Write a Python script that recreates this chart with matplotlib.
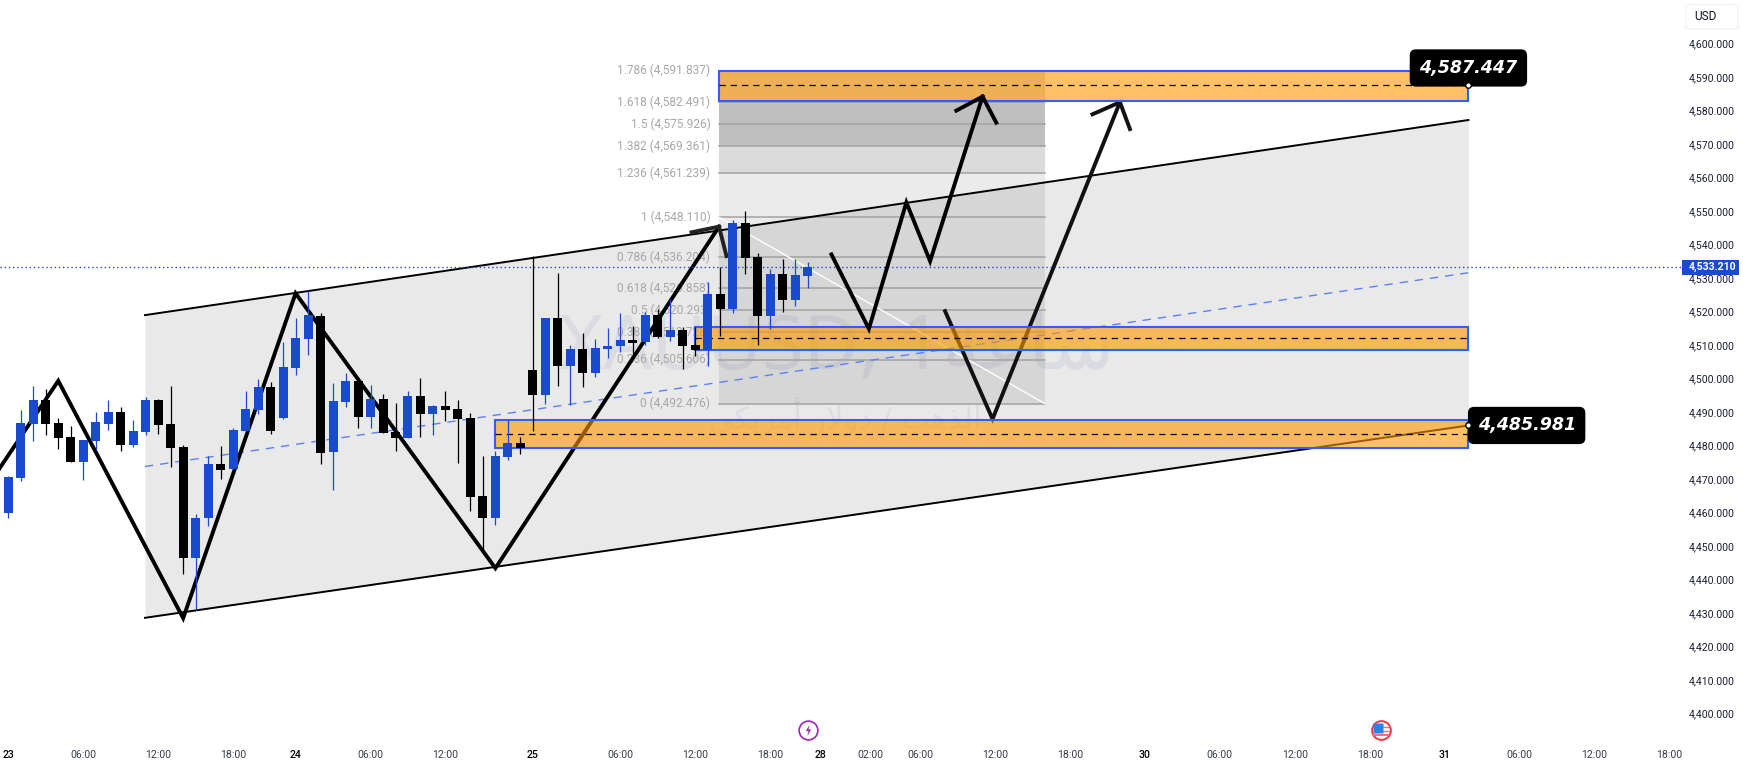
import matplotlib
matplotlib.use('Agg')
from matplotlib import pyplot as plt
from matplotlib.patches import FancyBboxPatch, Rectangle
import numpy as np

plt.rcParams['font.family'] = ['Roboto', 'DejaVu Sans']

# hourly candles
opens = [4459.9, 4470.3, 4486.4, 4493.6, 4486.7, 4482.6, 4475.1, 4481.4, 4486.4, 4490.0, 4480.2, 4484.0, 4493.6,
         4486.4, 4479.6, 4446.5, 4458.4, 4474.5, 4473.0, 4484.3, 4490.6, 4497.5, 4488.2, 4503.1, 4511.8, 4518.7,
         4478.1, 4493.0, 4499.3, 4488.5, 4493.9, 4484.0, 4482.2, 4494.8, 4489.4, 4491.8, 4490.9, 4488.2, 4465.0,
         4458.4, 4476.6, 4480.8, 4502.5, 4495.1, 4518.0, 4503.7, 4508.8, 4501.6, 4508.8, 4509.7, 4511.5, 4510.9,
         4518.9, 4512.4, 4514.5, 4510.0, 4508.5, 4525.2, 4520.7, 4546.4, 4536.2, 4518.6, 4531.2, 4523.4, 4530.6]
closes = [4470.6, 4486.7, 4493.6, 4486.4, 4482.3, 4475.1, 4481.7, 4487.0, 4490.0, 4480.2, 4484.3, 4493.6, 4486.1,
          4479.3, 4446.5, 4458.4, 4474.5, 4472.7, 4484.6, 4490.9, 4497.5, 4484.3, 4503.4, 4512.1, 4519.0, 4477.8,
          4493.3, 4499.3, 4488.5, 4493.9, 4483.7, 4482.3, 4494.8, 4489.4, 4491.8, 4490.6, 4487.9, 4464.6, 4458.4,
          4476.9, 4480.8, 4479.3, 4495.1, 4518.0, 4503.7, 4508.8, 4501.6, 4509.1, 4509.7, 4511.5, 4510.6, 4518.9,
          4512.4, 4514.5, 4509.7, 4508.5, 4525.2, 4520.7, 4546.4, 4536.0, 4518.6, 4531.2, 4523.4, 4530.9, 4533.3]
highs = [4470.9, 4490.6, 4497.8, 4496.9, 4488.2, 4485.8, 4481.7, 4490.0, 4493.6, 4491.5, 4487.6, 4494.5, 4493.9,
         4497.8, 4480.2, 4459.6, 4476.9, 4479.9, 4485.2, 4496.3, 4499.9, 4499.0, 4510.9, 4518.1, 4526.1, 4519.5,
         4498.7, 4501.6, 4500.5, 4498.1, 4495.4, 4492.7, 4496.3, 4500.1, 4492.1, 4496.3, 4493.6, 4489.7, 4476.9,
         4478.4, 4487.6, 4482.5, 4536.5, 4518.0, 4531.5, 4510.0, 4513.6, 4511.8, 4515.1, 4519.5, 4515.7, 4519.8,
         4520.7, 4523.7, 4515.4, 4515.5, 4528.8, 4533.3, 4547.3, 4550.0, 4537.4, 4532.7, 4535.6, 4535.6, 4534.8]
lows = [4458.5, 4469.5, 4481.4, 4483.2, 4479.0, 4475.1, 4469.7, 4478.7, 4484.6, 4478.4, 4479.6, 4483.2, 4483.5,
        4473.6, 4441.7, 4430.9, 4456.0, 4470.0, 4473.0, 4484.3, 4489.4, 4483.5, 4487.9, 4501.1, 4507.0, 4474.5,
        4466.7, 4491.5, 4485.2, 4485.2, 4483.7, 4478.4, 4482.2, 4482.5, 4483.1, 4487.3, 4474.8, 4460.5, 4448.8,
        4456.3, 4475.7, 4477.5, 4484.3, 4492.4, 4497.8, 4492.1, 4497.5, 4500.4, 4506.1, 4507.9, 4507.3, 4510.0,
        4512.1, 4511.2, 4502.8, 4506.7, 4503.7, 4512.7, 4519.5, 4531.2, 4510.0, 4514.8, 4519.8, 4521.6, 4527.0]

last_price = 4533.21

# bar numbers of the time axis
xtick_pos = [0, 6, 12, 18, 23, 29, 35, 42, 49, 55, 61, 65, 69, 73, 79, 85, 91, 97, 103, 109, 115, 121, 127, 133]
xtick_txt = ['23', '06:00', '12:00', '18:00', '24', '06:00', '12:00', '25', '06:00', '12:00', '18:00', '28',
             '02:00', '06:00', '12:00', '18:00', '30', '06:00', '12:00', '18:00', '31', '06:00', '12:00', '18:00']
date_ticks = ['23', '24', '25', '28', '30', '31']
ytick_pos = list(range(4400, 4601, 10))

# rising channel
chan_x = [10.94, 116.9]
chan_up = [4518.9, 4577.1]
chan_dn = [4428.6, 4485.981]

# fibonacci
fib_x = [56.9, 83.0]
fib_ratio = ['0', '0.236', '0.382', '0.5', '0.618', '0.786', '1', '1.236', '1.382', '1.5', '1.618', '1.786']
fib_price = [4492.476, 4505.606, 4513.728, 4520.293, 4526.858, 4536.204, 4548.110, 4561.239, 4569.361, 4575.926,
             4582.491, 4591.837]

# supply/demand boxes: left, low, mid, high
zone_left = [56.9, 55.0, 39.0]
zone_low = [4582.9, 4508.5, 4479.2]
zone_mid = [4587.447, 4512.1, 4483.4]
zone_high = [4591.8, 4515.5, 4487.6]

# zigzags
main_x = [-2.3, 4, 14, 23, 39, 56.9]
main_y = [4464.3, 4499.3, 4428.5, 4525.4, 4443.4, 4545.3]
main_head_x = [54.7, 56.9, 57.5]
main_head_y = [4543.6, 4545.3, 4536.5]
arrow1_x = [65.9, 68.9, 71.9, 73.8, 78.0]
arrow1_y = [4537.0, 4514.8, 4552.5, 4535.0, 4584.1]
arrow1_head_x = [75.9, 78.0, 79.1]
arrow1_head_y = [4579.9, 4584.1, 4576.3]
arrow2_x = [75.0, 78.8, 89.0]
arrow2_y = [4520.1, 4487.9, 4582.4]
arrow2_head_x = [86.8, 89.0, 89.8]
arrow2_head_y = [4578.8, 4582.4, 4574.4]

BLUE = '#1a4bcc'
W, H = 1743, 769

fig = plt.figure(figsize=(W / 100, H / 100), dpi=100)
ax = fig.add_axes([0, 1 - 738 / H, 1683 / W, 738 / H])
ax.set_xlim(-0.665, 134.08)
ax.set_ylim(4392.75, 4612.9)
for s in ax.spines.values():
    s.set_visible(False)

ax.yaxis.tick_right()
ax.set_yticks(ytick_pos)
ax.set_yticklabels([f'{v:,.3f}' for v in ytick_pos])
ax.set_xticks(xtick_pos)
ax.set_xticklabels(xtick_txt)
ax.tick_params(axis='y', length=0, pad=4.3, labelsize=7.6, labelcolor='#1c2030')
ax.tick_params(axis='x', length=0, pad=9, labelsize=7.6, labelcolor='#3a3e4a')
for lab in ax.get_xticklabels():
    if lab.get_text() in date_ticks:
        lab.set_color('black')
        lab.set_fontweight('medium')

# watermark
ax.text(66.3, 4508.5, 'XAUUSD, 1\ufe94\ufecb\ufe8e\ufeb3', fontsize=54.5, color='#eff1f8', ha='center', va='center',
        family=['Noto Sans', 'DejaVu Sans'], zorder=0.5)
ax.text(67.0, 4488.5, '\ufef2\ufedc\ufef3\ufeae\ufee3\ufe83 \ufead\ufefb\ufeed\ufea9 / \ufe90\ufeeb\ufeac\ufedf\ufe8d',
        fontsize=22, color='#f0f2f7', ha='center', va='center', family='DejaVu Sans', zorder=0.5)

# channel
ax.fill_between(chan_x, chan_dn, chan_up, color='black', alpha=0.087, lw=0, zorder=1)
ax.plot(chan_x, chan_up, color='black', lw=1.4, zorder=3)
ax.plot(chan_x, chan_dn, color='black', lw=1.4, zorder=3)
ax.plot(chan_x, [(a + b) / 2 for a, b in zip(chan_up, chan_dn)], color='#5b82f5', lw=1, ls=(0, (6, 5)), zorder=3)

# fib retracement
fib_top = fib_price.index(4561.239)
ax.fill_between(fib_x, fib_price[0], fib_price[fib_top], color='black', alpha=0.08, lw=0, zorder=1.5)
ax.fill_between(fib_x, fib_price[fib_top], fib_price[fib_top + 1], color='black', alpha=0.14, lw=0, zorder=1.5)
ax.fill_between(fib_x, fib_price[fib_top + 1], fib_price[-2], color='black', alpha=0.25, lw=0, zorder=1.5)
ax.fill_between(fib_x, fib_price[-2], fib_price[-1], color='black', alpha=0.16, lw=0, zorder=1.5)
for r, p in zip(fib_ratio, fib_price):
    ax.plot(fib_x, [p, p], color='#a2a2a2', lw=1.1, zorder=2)
    ax.text(56.2, p, f'{r} ({p:,.3f})', color='#a8a8a8', fontsize=8.6, ha='right', va='center', zorder=2)
ax.plot(fib_x, [fib_price[6], fib_price[0]], color='white', lw=1, zorder=2.2)

# zigzags under the boxes
ax.plot(main_x, main_y, color='black', lw=2.8, solid_joinstyle='miter', zorder=3.2)
ax.plot(main_head_x, main_head_y, color='#222222', lw=2.8, solid_joinstyle='miter', zorder=3.2)
ax.plot(arrow2_x, arrow2_y, color='#111111', lw=2.8, solid_joinstyle='miter', zorder=3.2)
ax.plot(arrow2_head_x, arrow2_head_y, color='#111111', lw=2.8, solid_joinstyle='miter', zorder=3.2)

# boxes
for left, lo, mid, hi in zip(zone_left, zone_low, zone_mid, zone_high):
    ax.add_patch(Rectangle((left, lo), chan_x[1] - left, hi - lo, facecolor='#ff9800', alpha=0.6, lw=0, zorder=4))
    ax.add_patch(Rectangle((left, lo), chan_x[1] - left, hi - lo, facecolor='none', edgecolor='#2962ff', lw=1.5,
                           zorder=4.1))
    ax.plot([left, chan_x[1]], [mid, mid], color='black', lw=0.9, ls=(0, (5, 4)), zorder=4.2)

ax.axhline(last_price, color=BLUE, lw=1, ls=(0, (1, 2)), zorder=4.3)

# candles
xs = np.arange(len(opens))
opens_a, closes_a = np.array(opens), np.array(closes)
colors = [BLUE if c >= o else 'black' for o, c in zip(opens, closes)]
ax.vlines(xs, lows, highs, colors=colors, lw=0.9, zorder=5)
ax.bar(xs, np.abs(closes_a - opens_a), bottom=np.minimum(opens_a, closes_a), width=0.72, color=colors, lw=0, zorder=5)

# drawn on top of the boxes
ax.plot(arrow1_x, arrow1_y, color='black', lw=2.8, solid_joinstyle='miter', zorder=6)
ax.plot(arrow1_head_x, arrow1_head_y, color='black', lw=2.8, solid_joinstyle='miter', zorder=6)

# price tags
label_box = dict(boxstyle='round,pad=0.55,rounding_size=0.35', fc='black', ec='none')
ax.annotate('4,587.447', xy=(chan_x[1], 4587.447), xytext=(0, 12.5), textcoords='offset points', ha='center',
            va='center', color='white', fontsize=12.6, fontweight='bold', fontstyle='oblique', family='DejaVu Sans',
            bbox=label_box, zorder=7)
ax.annotate('4,485.981', xy=(chan_x[1], 4485.981), xytext=(6.6, 0), textcoords='offset points', ha='left',
            va='center', color='white', fontsize=12.6, fontweight='bold', fontstyle='oblique', family='DejaVu Sans',
            bbox=label_box, zorder=7)
ax.plot([chan_x[1], chan_x[1]], [4587.447, 4485.981], ls='none', marker='o', ms=4, mfc='white', mec='black', mew=1,
        zorder=8)

# event icons on the time axis
ax.plot([64.0], [4395.1], ls='none', marker='o', ms=13.5, mfc='white', mec='#9c27b0', mew=1.2, zorder=6,
        clip_on=False)
bolt = [(0.2, 1), (-0.5, -0.1), (0, -0.1), (-0.2, -1), (0.5, 0.2), (0, 0.2)]
ax.plot([64.0], [4395.1], ls='none', marker=bolt, ms=8, mfc='#9c27b0', mec='none', zorder=7, clip_on=False)
ax.plot([109.9], [4395.1], ls='none', marker='o', ms=13.5, mfc='white', mec='#f23645', mew=1.4, zorder=6,
        clip_on=False)
ax.plot([110.1, 110.55], [4396.0, 4396.0], color='#f26d78', lw=1, zorder=7)
ax.plot([110.1, 110.55], [4394.8, 4394.8], color='#f26d78', lw=1, zorder=7)
ax.plot([109.35, 110.5], [4393.6, 4393.6], color='#f26d78', lw=1.4, zorder=7)
ax.plot([109.66], [4395.8], ls='none', marker='s', ms=6.5, mfc='#2f80ed', mec='none', zorder=7)

# price scale extras, in figure pixels
ax_px = fig.transFigure
fig.add_artist(FancyBboxPatch((1686 / W, 1 - 29 / H), 52 / W, 24.5 / H, boxstyle='round,pad=0,rounding_size=0.003',
                              fc='white', ec='#f0f3fa', lw=1, transform=ax_px, mutation_aspect=H / W * 1.0))
fig.text(1694 / W, 1 - 17 / H, 'USD', color='#131722', fontsize=8.6, va='center', ha='left')
fig.add_artist(Rectangle((1682 / W, 1 - 274.7 / H), 57 / W, 14.7 / H, fc=BLUE, ec='none', transform=ax_px))
fig.text(1689 / W, 1 - 267.3 / H, f'{last_price:,.3f}', color='white', fontsize=7.6, fontweight='bold', va='center',
         ha='left')

plt.savefig('out.png', dpi=100)
